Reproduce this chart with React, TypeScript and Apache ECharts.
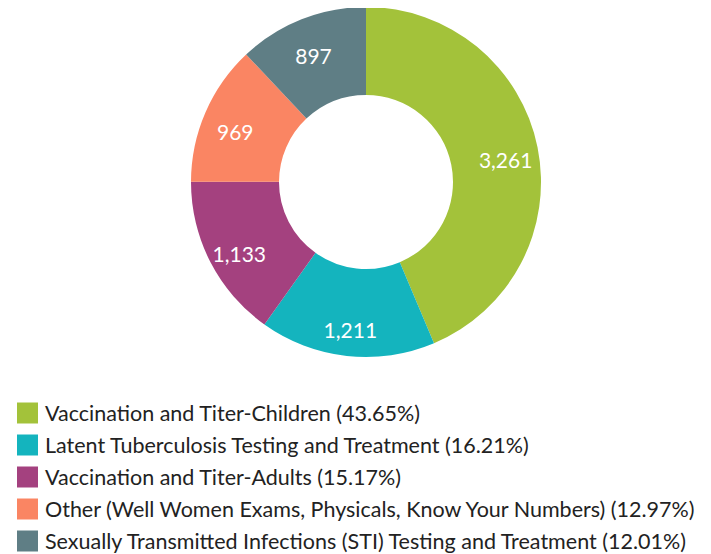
import React, { useEffect, useRef } from "react";
import * as echarts from "echarts";

const categories = [
  "Vaccination and Titer-Children",
  "Latent Tuberculosis Testing and Treatment",
  "Vaccination and Titer-Adults",
  "Other (Well Women Exams, Physicals, Know Your Numbers)",
  "Sexually Transmitted Infections (STI) Testing and Treatment",
];
const values = [3261, 1211, 1133, 969, 897];
const colors = ["#A3C23A", "#14B4BE", "#A4417F", "#FA8563", "#5F7E85"];

export default function App() {
  const ref = useRef<HTMLDivElement>(null);
  useEffect(() => {
    if (!ref.current) return;
    const chart = echarts.init(ref.current, null, { renderer: "svg" });
    const total = values.reduce((a, b) => a + b, 0);
    const pct: Record<string, string> = {};
    categories.forEach((c, i) => {
      pct[c] = ((values[i] / total) * 100).toFixed(2);
    });
    const data = categories.map((c, i) => ({ name: c, value: values[i] }));
    chart.setOption({
      animation: false,
      color: colors,
      legend: {
        orient: "vertical",
        left: 4,
        top: 389,
        height: 200,
        itemWidth: 21,
        itemHeight: 21,
        itemGap: 10,
        icon: "rect",
        selectedMode: false,
        formatter: (name: string) => `${name} (${pct[name]}%)`,
        textStyle: {
          fontFamily: "Lato",
          fontSize: 21.5,
          lineHeight: 21,
          color: "#222",
          padding: [0, 0, 0, 2],
        },
      },
      series: [
        {
          type: "pie",
          center: [358, 174],
          radius: [87, 175],
          startAngle: 90,
          clockwise: true,
          avoidLabelOverlap: false,
          label: { show: false },
          labelLine: { show: false },
          itemStyle: { borderWidth: 0 },
          emphasis: { disabled: true },
          data,
        },
        {
          type: "pie",
          center: [358, 174],
          radius: [104, 175],
          startAngle: 90,
          clockwise: true,
          silent: true,
          avoidLabelOverlap: false,
          legendHoverLink: false,
          label: {
            show: true,
            position: "inside",
            color: "#fff",
            fontFamily: "Lato",
            fontSize: 21,
            offset: [0, 6],
            formatter: (p: any) => p.value.toLocaleString("en-US"),
          },
          labelLine: { show: false },
          itemStyle: { color: "transparent", borderWidth: 0 },
          emphasis: { disabled: true },
          data,
        },
      ],
    });
    return () => chart.dispose();
  }, []);
  return <div ref={ref} style={{ width: 703, height: 546 }} />;
}
